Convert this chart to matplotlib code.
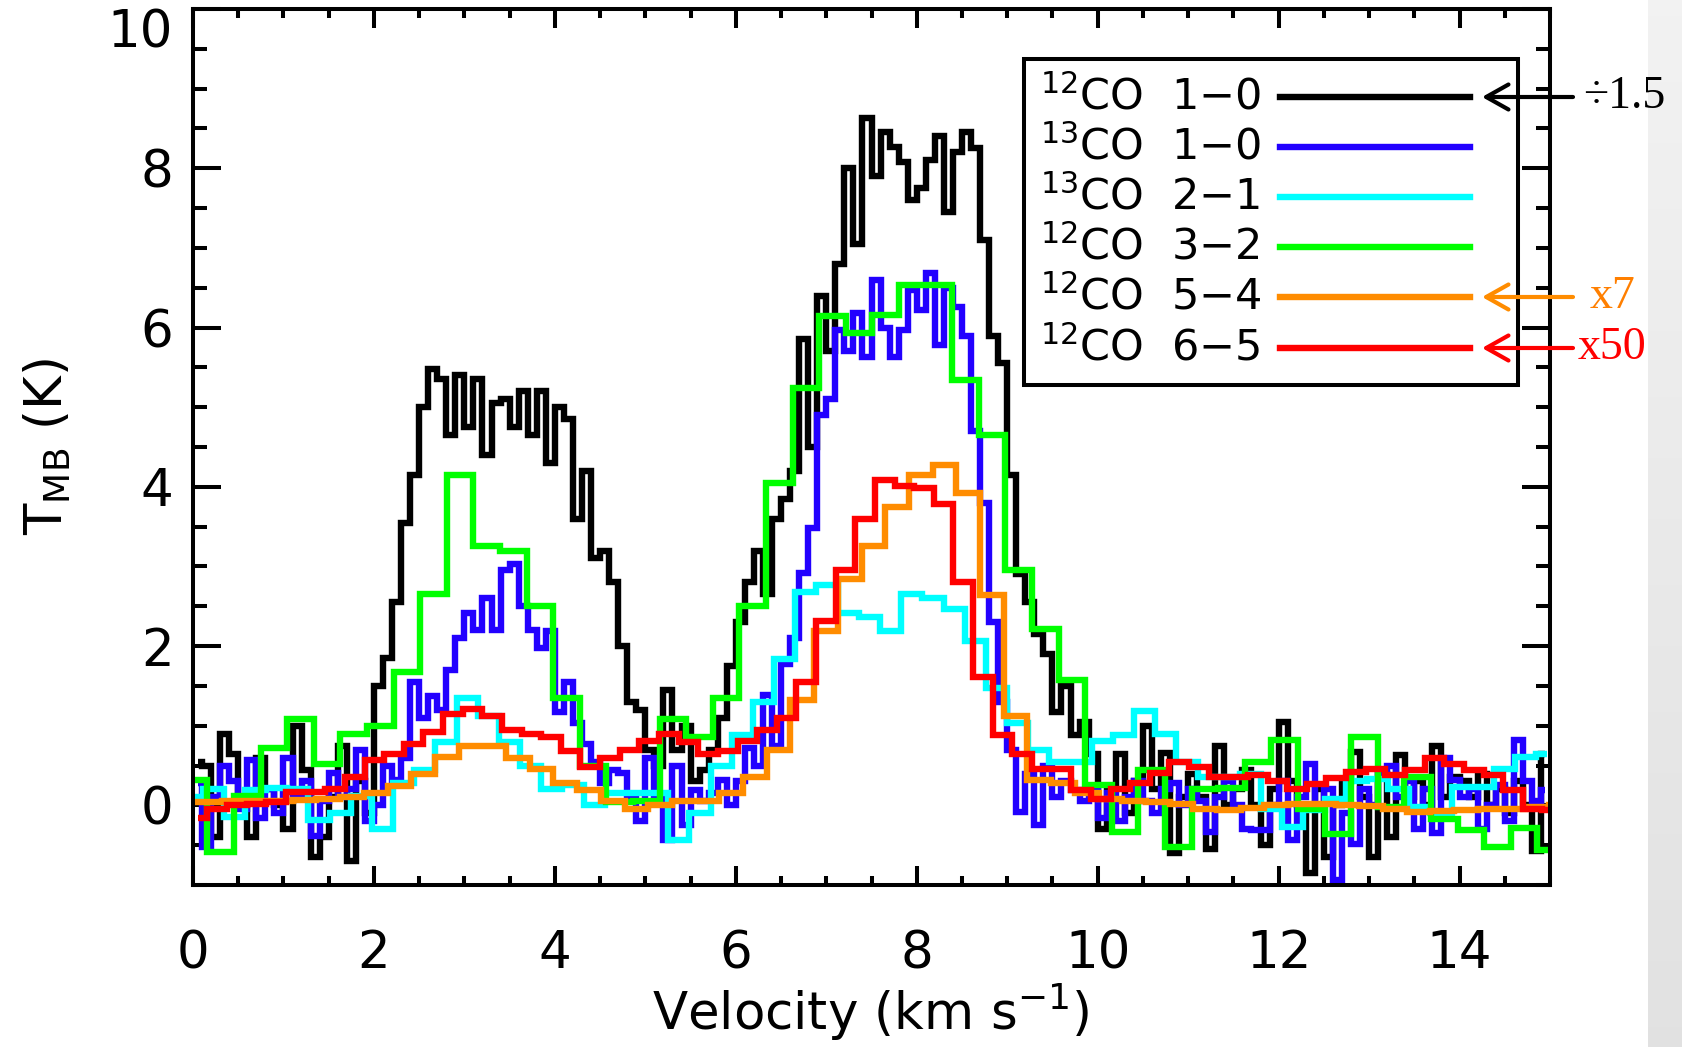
import numpy as np
import matplotlib
matplotlib.use("Agg")
import matplotlib.pyplot as plt
from matplotlib.ticker import MultipleLocator, FixedLocator
from matplotlib.patches import Rectangle
from matplotlib.lines import Line2D

plt.rcParams['font.family'] = ['DejaVu Sans']
plt.rcParams['mathtext.fontset'] = 'dejavusans'

# ---------------- data ----------------
# channel grids: (first channel centre, channel width)
co10_start, co10_dv = 0.05, 0.1          # 12CO 1-0 and 13CO 1-0
c13_21_start, c13_21_dv = -0.011, 0.234  # 13CO 2-1
co32_start, co32_dv = 0.013, 0.294       # 12CO 3-2
co54_start, co54_dv = -0.077, 0.262      # 12CO 5-4
co65_start, co65_dv = 0.0515, 0.217      # 12CO 6-5

t_12co10 = [0.55, 0.50, -0.40, 0.90, 0.65, 0.10, -0.40, 0.60, 0.20, 0.00,
            -0.30, 1.00, 0.45, -0.65, -0.40, 0.10, 0.75, -0.70, 0.30, -0.10,
            1.50, 1.85, 2.55, 3.55, 4.15, 5.00, 5.48, 5.35, 4.65, 5.40,
            4.75, 5.35, 4.40, 5.05, 5.10, 4.75, 5.20, 4.65, 5.20, 4.30,
            5.00, 4.85, 3.60, 4.20, 3.10, 3.20, 2.80, 2.00, 1.30, 1.20,
            0.70, 0.50, 1.45, 0.70, 1.00, 0.30, 0.45, 0.70, 1.10, 1.75,
            2.30, 2.80, 3.20, 2.65, 3.60, 3.85, 4.20, 5.85, 4.50, 6.40,
            5.70, 6.80, 8.00, 7.05, 8.63, 7.90, 8.45, 8.27, 8.08, 7.60,
            7.75, 8.10, 8.40, 7.45, 8.20, 8.46, 8.25, 7.10, 5.90, 5.55,
            4.15, 2.90, 2.55, 2.15, 1.90, 1.17, 1.50, 0.88, 1.05, 0.64,
            -0.30, 0.20, 0.64, -0.10, 0.30, 1.00, 0.20, 0.66, -0.60, 0.10,
            0.40, 0.10, -0.55, 0.75, 0.00, 0.20, 0.45, 0.00, -0.50, 0.20,
            1.05, 0.30, 0.00, -0.85, 0.20, -0.65, 0.00, 0.30, 0.67, 0.10,
            -0.65, 0.40, -0.40, 0.63, 0.10, 0.30, 0.00, 0.75, 0.10, 0.35,
            0.30, 0.10, 0.40, 0.00, 0.20, -0.10, 0.30, 0.00, -0.57, 0.65]

t_13co10 = [0.28, -0.52, 0.10, 0.50, 0.30, -0.05, 0.57, -0.16, 0.20, -0.10,
            0.59, 0.10, 0.30, -0.39, 0.05, 0.41, 0.10, 0.20, 0.70, -0.20,
            0.00, 0.50, 0.32, 0.60, 1.55, 1.10, 1.37, 1.20, 1.70, 2.10,
            2.41, 2.20, 2.61, 2.20, 2.95, 3.03, 2.50, 2.20, 1.97, 2.19,
            1.17, 1.55, 1.04, 0.77, 0.55, 0.28, 0.45, 0.41, 0.10, -0.20,
            0.59, 0.10, -0.43, 0.50, -0.25, 0.19, 0.05, 0.15, 0.32, 0.00,
            0.30, 0.72, 0.50, 1.39, 0.75, 1.77, 2.10, 2.92, 3.48, 4.90,
            5.10, 5.97, 5.70, 6.18, 5.63, 6.60, 6.00, 5.63, 5.97, 6.47,
            6.22, 6.68, 5.78, 6.50, 6.26, 5.90, 4.70, 3.80, 2.30, 1.30,
            0.70, -0.08, 0.40, -0.25, 0.50, 0.10, 0.30, 0.19, 0.05, 0.20,
            -0.16, 0.15, -0.20, 0.10, 0.30, 0.05, -0.10, 0.20, 0.28, 0.00,
            0.20, 0.05, -0.34, 0.10, 0.30, 0.00, -0.30, -0.31, -0.31, 0.00,
            0.31, -0.44, 0.10, 0.52, 0.00, 0.20, -0.94, -0.10, -0.48, 0.20,
            0.00, 0.40, 0.50, 0.10, 0.30, -0.30, 0.20, -0.35, 0.60, 0.32,
            0.10, 0.20, -0.30, 0.00, 0.25, -0.20, 0.82, 0.30, 0.05, 0.19]

t_13co21 = [0.10, 0.20, -0.14, 0.19, 0.22, 0.20, -0.19, -0.10, 0.12, -0.30,
            0.28, 0.45, 0.79, 1.35, 1.12, 0.79, 0.50, 0.21, 0.25, 0.00,
            0.15, 0.15, 0.15, -0.43, -0.10, 0.50, 0.88, 1.30, 1.84, 2.68,
            2.77, 2.41, 2.37, 2.19, 2.66, 2.61, 2.46, 2.06, 1.48, 1.04,
            0.70, 0.55, 0.55, 0.81, 0.88, 1.19, 0.90, 0.55, 0.35, 0.35,
            0.40, -0.04, -0.27, -0.06, 0.08, 0.31, 0.33, 0.21, -0.02, -0.10,
            0.23, 0.23, 0.46, 0.61, 0.65]

t_12co32 = [0.32, -0.59, 0.12, 0.72, 1.08, 0.52, 0.90, 1.00, 1.68, 2.66,
            4.15, 3.26, 3.19, 2.50, 1.35, 0.50, 0.04, 0.06, 1.08, 0.86,
            1.35, 2.50, 4.05, 5.24, 6.14, 5.93, 6.16, 6.54, 6.54, 5.34,
            4.65, 2.95, 2.21, 1.57, 0.26, -0.34, 0.44, -0.52, 0.21, 0.22,
            0.54, 0.82, -0.04, -0.36, 0.86, -0.02, 0.36, -0.17, -0.31, -0.52,
            -0.29, -0.56]

t_12co54 = [0.04, 0.04, 0.05, 0.05, 0.06, 0.07, 0.08, 0.10, 0.15, 0.24,
            0.40, 0.61, 0.75, 0.74, 0.59, 0.46, 0.28, 0.19, 0.06, -0.05,
            0.00, 0.06, 0.06, 0.15, 0.35, 0.70, 1.32, 2.19, 2.84, 3.26,
            3.75, 4.15, 4.27, 3.92, 2.64, 1.12, 0.32, 0.28, 0.15, 0.08,
            0.05, 0.04, 0.02, -0.05, -0.06, -0.03, 0.00, 0.02, 0.02, 0.01,
            -0.01, -0.05, -0.08, -0.07, -0.06, -0.05, -0.04, -0.02, 0.00]

t_12co65 = [-0.16, -0.05, 0.00, 0.02, 0.04, 0.17, 0.17, 0.21, 0.35, 0.57,
            0.64, 0.77, 0.92, 1.15, 1.21, 1.12, 0.95, 0.90, 0.86, 0.68,
            0.48, 0.59, 0.70, 0.81, 0.90, 0.79, 0.64, 0.68, 0.81, 0.95,
            1.10, 1.55, 2.32, 2.95, 3.59, 4.08, 4.01, 3.99, 3.79, 2.81,
            1.61, 0.88, 0.64, 0.46, 0.46, 0.19, 0.08, 0.21, 0.28, 0.41,
            0.55, 0.48, 0.35, 0.35, 0.38, 0.31, 0.21, 0.27, 0.34, 0.42,
            0.46, 0.38, 0.44, 0.59, 0.52, 0.44, 0.38, 0.19, -0.04, -0.06]

labels = [r'$^{12}$CO  1$-$0', r'$^{13}$CO  1$-$0', r'$^{13}$CO  2$-$1',
          r'$^{12}$CO  3$-$2', r'$^{12}$CO  5$-$4', r'$^{12}$CO  6$-$5']
colors = ['#000000', '#2200ff', '#00ffff', '#00ff00', '#ff8c00', '#ff0000']
scale_notes = ['÷1.5', None, None, None, 'x7', 'x50']
note_colors = ['#000000', None, None, None, '#ff7f00', '#ff0000']

series = [(co10_start, co10_dv, t_12co10),
          (co10_start, co10_dv, t_13co10),
          (c13_21_start, c13_21_dv, t_13co21),
          (co32_start, co32_dv, t_12co32),
          (co54_start, co54_dv, t_12co54),
          (co65_start, co65_dv, t_12co65)]

# ---------------- figure ----------------
W, H = 1682, 1047
fig = plt.figure(figsize=(W / 100, H / 100), dpi=100)
fig.patch.set_facecolor('white')

# grey strip at the right edge
gax = fig.add_axes([1648 / W, 0, (W - 1648) / W, 1])
grad = np.linspace(0.95, 0.885, 256).reshape(-1, 1)
gax.imshow(np.dstack([grad, grad, grad]), aspect='auto', extent=[0, 1, 0, 1])
gax.set_axis_off()

ax = fig.add_axes([193 / W, 1 - 885 / H, (1550 - 193) / W, (885 - 9) / H])

LW = 4.6
for (start, dv, vals), col in zip(series, colors):
    vel = start + dv * np.arange(len(vals))
    ax.plot(vel, vals, drawstyle='steps-mid', color=col, lw=LW,
            solid_joinstyle='miter', solid_capstyle='butt')

ax.set_xlim(0, 15)
ax.set_ylim(-1, 10)

ax.xaxis.set_major_locator(FixedLocator([0, 2, 4, 6, 8, 10, 12, 14]))
ax.xaxis.set_minor_locator(MultipleLocator(0.5))
ax.yaxis.set_major_locator(FixedLocator([0, 2, 4, 6, 8, 10]))
ax.yaxis.set_minor_locator(MultipleLocator(0.5))
ax.set_yticklabels(['0', '2', '4', '6', '8', ''])

for s in ax.spines.values():
    s.set_linewidth(2.9)

ax.tick_params(which='both', direction='in', top=True, right=True, width=2.9)
ax.tick_params(axis='y', which='major', length=20, labelsize=37, pad=14)
ax.tick_params(axis='y', which='minor', length=10)
ax.tick_params(axis='x', which='major', length=13.5, labelsize=37, pad=32)
ax.tick_params(axis='x', which='minor', length=6.5)

# top "10" label sits just below the top spine
ax.text(-20 / 1357, 1.0, '10', transform=ax.transAxes, ha='right', va='top',
        fontsize=37)

fig.text(871 / W, 1 - 1030 / H, r'Velocity (km s$^{-1}$)', ha='center',
         va='baseline', fontsize=37)
fig.text(48 / W, 1 - 447 / H, r'T$_{\mathsf{MB}}$ (K)', ha='center',
         va='center', rotation=90, fontsize=37)

# ---------------- legend (drawn by hand) ----------------
def ax_x(px):
    return (px - 193) / 1357.0

def ax_y(py):
    return (885 - py) / 876.0

box = Rectangle((ax_x(1024), ax_y(385)), ax_x(1518) - ax_x(1024),
                ax_y(59) - ax_y(385), transform=ax.transAxes,
                facecolor='white', edgecolor='black', lw=2.9, zorder=5)
ax.add_patch(box)
row_py = [97, 147, 197, 247, 297, 348]
for lab, col, py in zip(labels, colors, row_py):
    ax.text(ax_x(1040), ax_y(py), lab, transform=ax.transAxes, ha='left',
            va='center', fontsize=31, zorder=6)
    ax.add_line(Line2D([ax_x(1280), ax_x(1470)], [ax_y(py), ax_y(py)],
                       transform=ax.transAxes, color=col, lw=LW, zorder=6))

# ---------------- scale notes with arrows ----------------
for note, ncol, lcol, py in zip(scale_notes, note_colors, colors, row_py):
    if note is None:
        continue
    acol = ncol if lcol == '#000000' else lcol
    fig.add_artist(matplotlib.patches.FancyArrowPatch(
        (1573 / W, 1 - py / H), (1482 / W, 1 - py / H),
        transform=fig.transFigure,
        arrowstyle='->,head_length=0.8,head_width=0.45', mutation_scale=20,
        lw=3.0, color=acol, shrinkA=0, shrinkB=0, zorder=10))
    xt = 1583 if note == '÷1.5' else (1590 if note == 'x7' else 1578)
    fig.text(xt / W, 1 - py / H, note, ha='left', va='center',
             fontsize=33, family=['Liberation Serif', 'DejaVu Serif'],
             color=ncol, zorder=10)

fig.savefig('out.png', dpi=100)
